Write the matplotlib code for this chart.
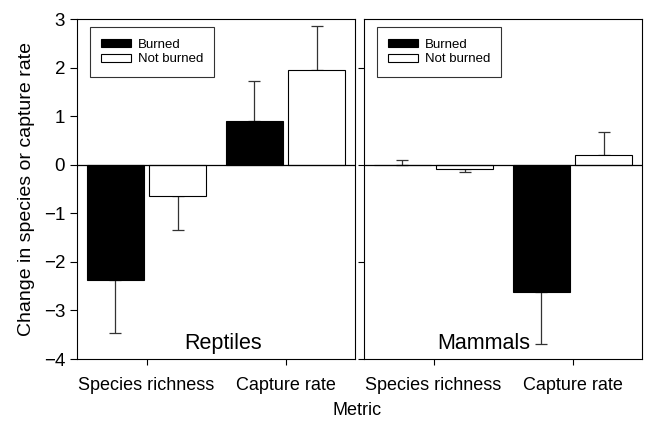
import matplotlib
matplotlib.use("Agg")
import matplotlib.pyplot as plt
import numpy as np

plt.rcParams["font.family"] = ["Liberation Sans", "DejaVu Sans"]

metrics = ["Species richness", "Capture rate"]
treatments = ["Burned", "Not burned"]

# mean change and one-sided SE, per panel, per treatment
reptiles_burned = [-2.38, 0.90]
reptiles_burned_err = [1.08, 0.83]
reptiles_unburned = [-0.65, 1.94]
reptiles_unburned_err = [0.69, 0.91]

mammals_burned = [0.0, -2.63]
mammals_burned_err = [0.10, 1.07]
mammals_unburned = [-0.09, 0.20]
mammals_unburned_err = [0.06, 0.47]

W, H = 645, 423
fig = plt.figure(figsize=(W / 100, H / 100), dpi=100)
ax_l = fig.add_axes([77 / W, 1 - 359 / H, 278 / W, 340 / H])
ax_r = fig.add_axes([364 / W, 1 - 359 / H, 278 / W, 340 / H])


def draw_panel(ax, burned, burned_err, unburned, unburned_err, name, name_x):
    x = np.arange(len(metrics))
    offset, width = 0.225, 0.41
    for vals, errs, dx, color, label in [
        (burned, burned_err, -offset, "black", treatments[0]),
        (unburned, unburned_err, offset, "white", treatments[1]),
    ]:
        vals = np.array(vals)
        errs = np.array(errs)
        ax.bar(x + dx, vals, width, color=color, edgecolor="black", linewidth=0.8, label=label, zorder=2)
        lower = np.where(vals < 0, errs, 0)
        upper = np.where(vals >= 0, errs, 0)
        ax.errorbar(x + dx, vals, yerr=[lower, upper], fmt="none", ecolor="#333333",
                    elinewidth=0.9, capsize=4.5, capthick=0.9, zorder=1)
    ax.axhline(0, color="black", linewidth=0.9, zorder=3)
    ax.set_xlim(-0.5, 1.5)
    ax.set_ylim(-4, 3)
    ax.set_xticks(x)
    ax.set_xticklabels(metrics, fontsize=13)
    ax.tick_params(axis="x", direction="out", length=4, pad=9)
    ax.text(name_x, -3.68, name, ha="center", va="center", fontsize=15.5)
    leg = ax.legend(loc="upper left", bbox_to_anchor=(0.045, 0.975), borderaxespad=0,
                    fontsize=9.5, frameon=True, fancybox=False, edgecolor="black",
                    handlelength=2.3, handleheight=0.6, labelspacing=0.2,
                    handletextpad=0.5, borderpad=0.85)
    leg.get_frame().set_linewidth(0.8)
    for s in ax.spines.values():
        s.set_linewidth(0.8)


draw_panel(ax_l, reptiles_burned, reptiles_burned_err, reptiles_unburned, reptiles_unburned_err,
           "Reptiles", 0.554)
draw_panel(ax_r, mammals_burned, mammals_burned_err, mammals_unburned, mammals_unburned_err,
           "Mammals", 0.363)

ax_l.set_yticks(range(-4, 4))
ax_l.tick_params(axis="y", direction="out", length=5, labelsize=13.5)
ax_l.set_ylabel("Change in species or capture rate", fontsize=14, labelpad=6)

ax_r.set_yticks([-4, -2, 0, 2])
ax_r.tick_params(axis="y", direction="out", length=4, labelleft=False)

fig.text(357 / W, 1 - 410 / H, "Metric", ha="center", va="center", fontsize=13)

fig.savefig("out.png", dpi=100)
